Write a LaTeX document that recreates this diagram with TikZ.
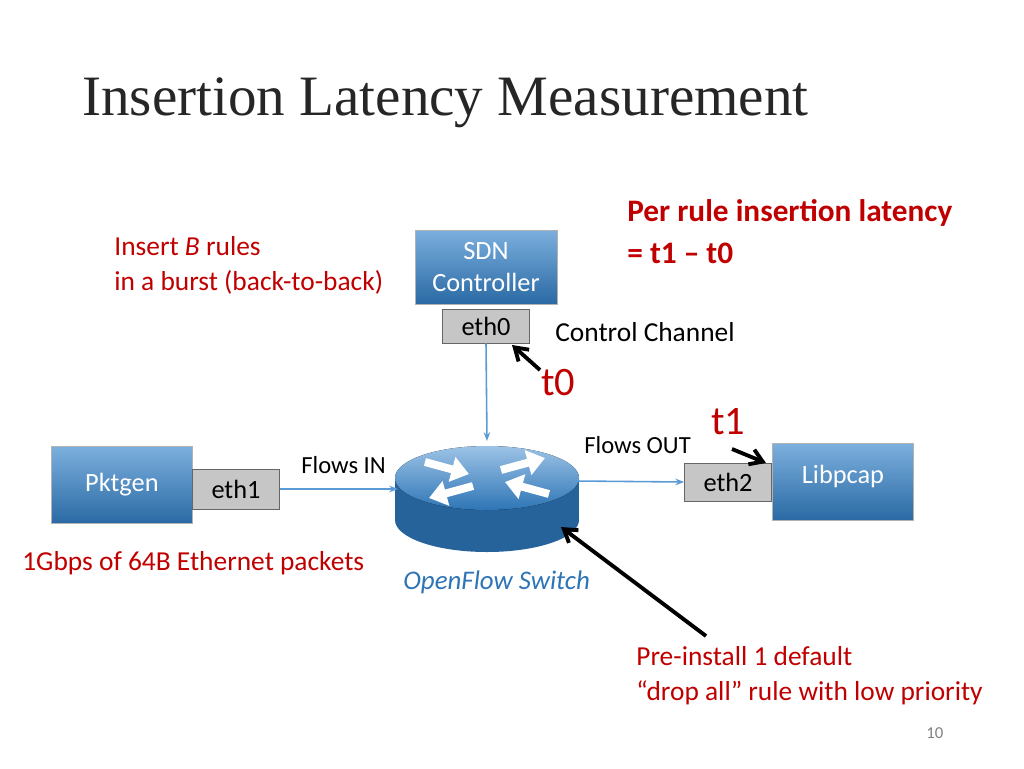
\documentclass[tikz,border=0pt]{standalone}
\usepackage{fontspec}
\setmainfont{Carlito}
\newfontfamily\ttl{Liberation Serif}
\usetikzlibrary{arrows.meta,shadows}
\definecolor{rd}{RGB}{192,0,0}
\definecolor{bl}{RGB}{46,117,182}
\definecolor{lb}{RGB}{91,155,213}
\begin{document}
\begin{tikzpicture}[x=0.02cm,y=-0.02cm,
 box/.style={draw=gray!60,top color=lb!80,bottom color=bl!90!black,text=white,font=\fontsize{15}{18}\selectfont,align=center,inner sep=0pt},
 eth/.style={draw=gray!80!black,fill=gray!45,font=\fontsize{15}{18}\selectfont,inner sep=0pt},
 lnk/.style={lb,line width=0.9pt,-{Stealth[length=5pt]}},
 blk/.style={black,line width=2.2pt,-{Straight Barb[length=7pt,width=9pt]}},
 tx/.style={font=\fontsize{15.6}{18}\selectfont,anchor=west,inner sep=0pt,align=left}]
\useasboundingbox (0,0) rectangle (1024,768);
\node[anchor=west,font=\ttl\fontsize{32.5}{36}\selectfont,text=black!85,inner sep=0pt] (title) at (82,103) {Insertion Latency Measurement};
\node[box,minimum width=142*0.02cm,minimum height=74*0.02cm] (sdn) at (486,267) {SDN\\Controller};
\node[eth,minimum width=87*0.02cm,minimum height=34*0.02cm] (eth0) at (486,326) {eth0};
\node[box,minimum width=141*0.02cm,minimum height=77*0.02cm,anchor=west] (pkt) at (51,485) {Pktgen};
\node[eth,minimum width=87*0.02cm,minimum height=40*0.02cm] (eth1) at (236,489) {eth1};
\node[box,minimum width=141*0.02cm,minimum height=77*0.02cm] (lib) at (843,482) {\raisebox{0.6em}{Libpcap}};
\node[eth,minimum width=87*0.02cm,minimum height=38*0.02cm] (eth2) at (728,482) {eth2};
% router
\fill[bl!85!black] (395,478) rectangle (579,520);
\fill[bl!85!black] (487,520) ellipse[x radius=92,y radius=32];
\fill[top color=lb!60!white,bottom color=bl] (487,478) ellipse[x radius=92,y radius=32];
\node[minimum width=184*0.02cm,minimum height=110*0.02cm,inner sep=0pt] (sw) at (487,500) {};
\begin{scope}[shift={(487,478)},white,line width=4.5pt,-{Triangle[length=10pt,width=14pt]}]
\draw (-62,-16) -- (-18,-4);
\draw (62,16) -- (18,4);
\draw (-14,8) -- (-58,20);
\draw (14,-8) -- (58,-20);
\end{scope}
\coordinate (swin) at (398,489);
\coordinate (swout) at (576,481);
\coordinate (swtop) at (487,441);
\draw[lnk] (eth0.south) -- (swtop);
\draw[lnk] (eth1.east) -- (swin);
\draw[lnk] (swout) -- (eth2.west);
% black arrows
\coordinate (a0) at (540,370); \coordinate (b0) at (512,345);
\draw[blk] (a0) -- (b0);
\coordinate (a1) at (732,449); \coordinate (b1) at (766,463);
\draw[blk] (a1) -- (b1);
\coordinate (a2) at (706,636); \coordinate (b2) at (561,527);
\draw[blk] (a2) -- (b2);
% texts
\node[tx,text=rd] (ins) at (114,265) {Insert \textit{B} rules\\[2pt]in a burst (back-to-back)};
\node[tx,text=rd,font=\bfseries\fontsize{17.8}{20}\selectfont] (per) at (627,232) {Per rule insertion latency\\[4pt]= t1 -- t0};
\node[tx] (cc) at (555,332) {Control Channel};
\node[tx,text=rd,font=\fontsize{23}{26}\selectfont] (t0) at (541,383) {t0};
\node[tx,text=rd,font=\fontsize{23}{26}\selectfont] (t1) at (711,422) {t1};
\node[tx,font=\fontsize{14}{17}\selectfont] (fo) at (584,445) {Flows OUT};
\node[tx,font=\fontsize{14}{17}\selectfont] (fi) at (301,465) {Flows IN};
\node[tx,text=rd] (gb) at (22,563) {1Gbps of 64B Ethernet packets};
\node[tx,text=bl,font=\itshape\fontsize{15.3}{18}\selectfont] (ofs) at (403,582) {OpenFlow Switch};
\node[tx,text=rd] (pre) at (636,676) {Pre-install 1 default\\[2pt]``drop all'' rule with low priority};
\node[tx,text=gray,font=\fontsize{9.5}{11}\selectfont] (pg) at (926,733) {10};
\end{tikzpicture}
\end{document}
